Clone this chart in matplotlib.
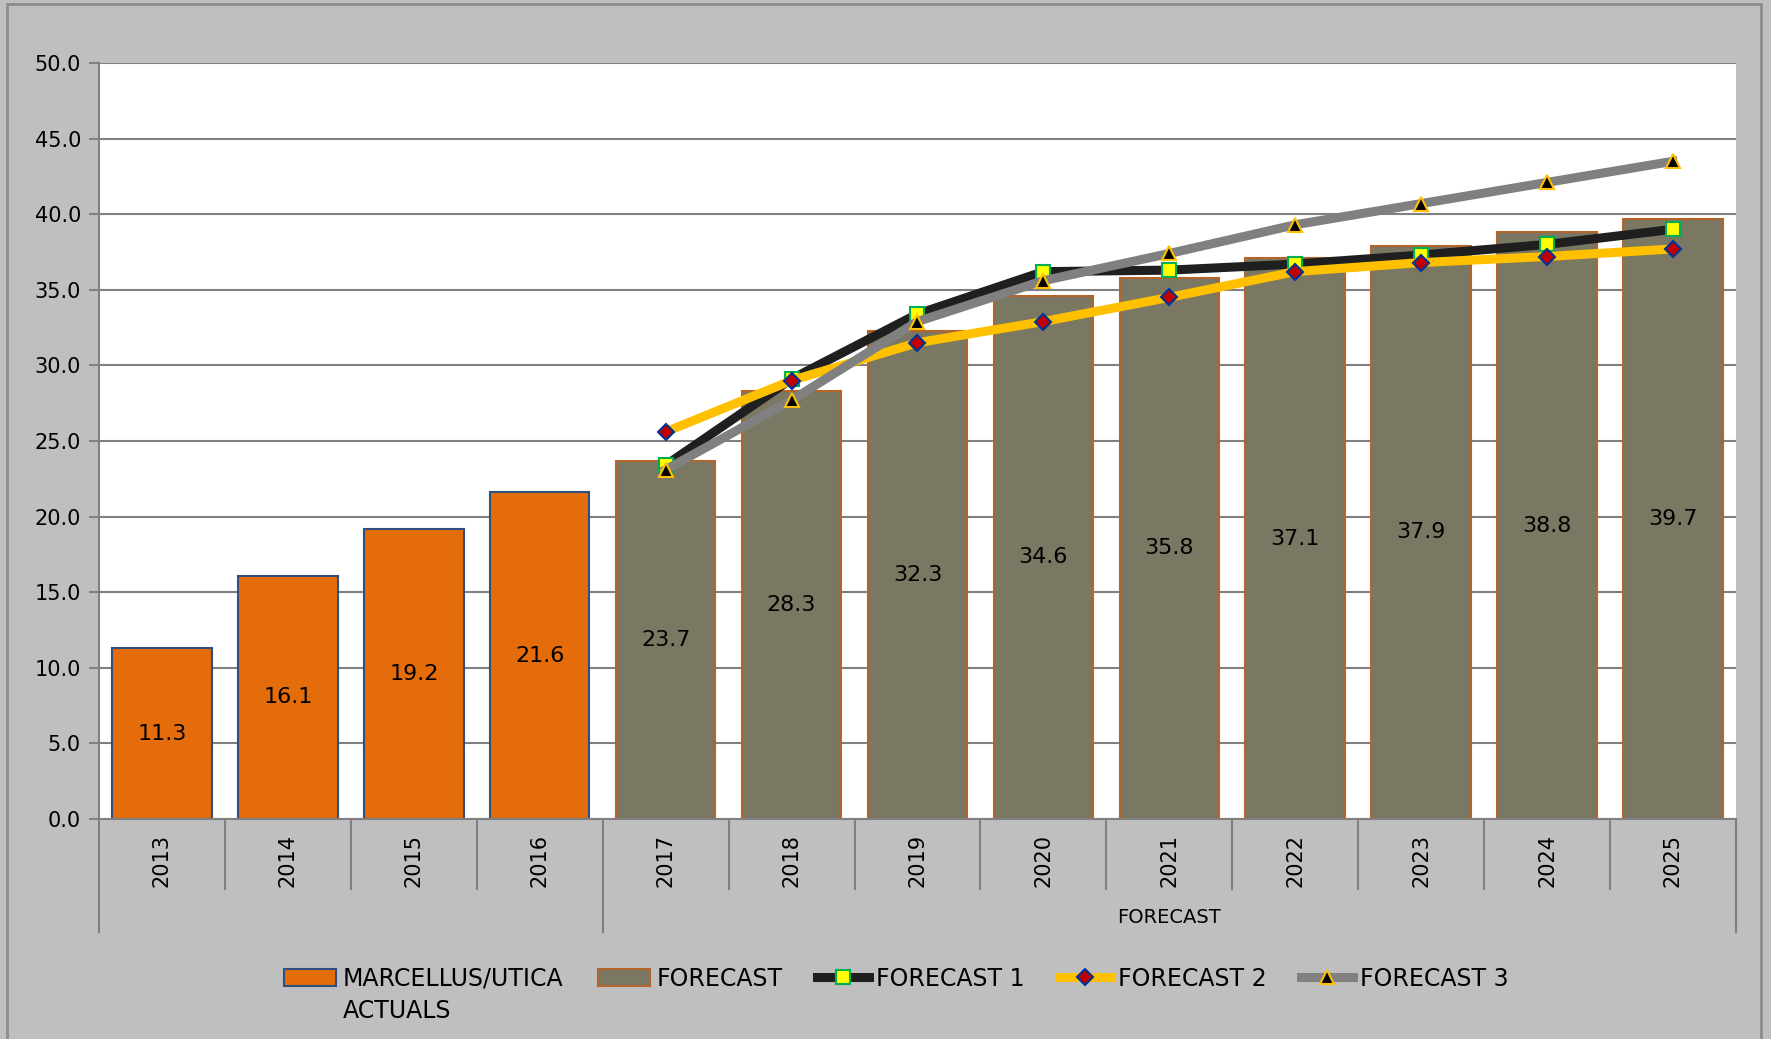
import matplotlib.pyplot as plt
from matplotlib.patches import Patch, Rectangle
from matplotlib.lines import Line2D
import matplotlib.transforms as mtransforms

# data
years = ["2013", "2014", "2015", "2016", "2017", "2018", "2019",
         "2020", "2021", "2022", "2023", "2024", "2025"]
actuals = [11.3, 16.1, 19.2, 21.6]
forecast = [23.7, 28.3, 32.3, 34.6, 35.8, 37.1, 37.9, 38.8, 39.7]
forecast_1 = [23.4, 29.1, 33.4, 36.2, 36.3, 36.7, 37.3, 38.0, 39.0]
forecast_2 = [25.6, 29.0, 31.5, 32.9, 34.5, 36.2, 36.8, 37.2, 37.7]
forecast_3 = [23.1, 27.7, 32.9, 35.6, 37.4, 39.3, 40.7, 42.1, 43.5]
group_labels = ["", "FORECAST"]

bg = "#BFBFBF"
grid_c = "#808080"
lw_line = 6.5

fig = plt.figure(figsize=(17.71, 10.39), dpi=100, facecolor=bg)
ax = fig.add_axes([0.0559, 0.2117, 0.9243, 0.7277])
ax.set_facecolor("white")

n_act = len(actuals)
x_act = list(range(n_act))
x_fc = list(range(n_act, n_act + len(forecast)))

bars_a = ax.bar(x_act, actuals, width=0.79, color="#E46C0A",
                edgecolor="#2F4F7F", linewidth=1.5, zorder=2)
bars_f = ax.bar(x_fc, forecast, width=0.79, color="#7A7763",
                edgecolor="#B5652A", linewidth=1.5, zorder=2)

for bars in (bars_a, bars_f):
    for b in bars:
        h = b.get_height()
        ax.text(b.get_x() + b.get_width() / 2, h / 2, f"{h:.1f}",
                ha="center", va="center", fontsize=16, color="black", zorder=5)

ax.plot(x_fc, forecast_1, color="#1F1F1F", lw=lw_line, marker="s", ms=9.5,
        mfc="#FFFF00", mec="#00B050", mew=1.5, zorder=3)
ax.plot(x_fc, forecast_2, color="#FFC000", lw=lw_line, marker="D", ms=8.5,
        mfc="#C00000", mec="#003399", mew=1.5, zorder=3)
ax.plot(x_fc, forecast_3, color="#808080", lw=lw_line, marker="^", ms=10.5,
        mfc="black", mec="#FFC000", mew=1.5, zorder=3)

ax.set_xlim(-0.5, len(years) - 0.5)
ax.set_ylim(0, 50)
ax.set_yticks([i * 5 for i in range(11)])
ax.set_yticklabels([f"{i * 5:.1f}" for i in range(11)], fontsize=15)
ax.yaxis.grid(True, color=grid_c, lw=1.5, zorder=1)
ax.set_axisbelow(True)
ax.tick_params(axis="y", length=7, width=1.5, color=grid_c, pad=6)
ax.set_xticks([])
for s in ("top", "right"):
    ax.spines[s].set_visible(False)
ax.spines["left"].set_color(grid_c)
ax.spines["left"].set_linewidth(1.5)
ax.spines["bottom"].set_color(grid_c)
ax.spines["bottom"].set_linewidth(1.5)

# two level category axis
trans = mtransforms.blended_transform_factory(ax.transData, ax.transAxes)
for i, y in enumerate(years):
    ax.text(i, -0.055, y, rotation=90, ha="center", va="center",
            fontsize=15, transform=trans)
for k in range(len(years) + 1):
    xb = k - 0.5
    low = -0.149 if k in (0, n_act, len(years)) else -0.093
    ax.plot([xb, xb], [0, low], color=grid_c, lw=1.5, transform=trans,
            clip_on=False)
ax.text((n_act - 1) / 2, -0.13, group_labels[0], ha="center", va="center",
        fontsize=14, transform=trans)
ax.text((n_act + len(years) - 1) / 2, -0.13, group_labels[1], ha="center",
        va="center", fontsize=14, transform=trans)

# legend (second line of the first label goes underneath, like excel does)
handles = [
    Patch(facecolor="#E46C0A", edgecolor="#2F4F7F", lw=1.5),
    Patch(facecolor="#7A7763", edgecolor="#B5652A", lw=1.5),
    Line2D([], [], color="#1F1F1F", lw=lw_line, marker="s", ms=9.5,
           mfc="#FFFF00", mec="#00B050", mew=1.5),
    Line2D([], [], color="#FFC000", lw=lw_line, marker="D", ms=8.5,
           mfc="#C00000", mec="#003399", mew=1.5),
    Line2D([], [], color="#808080", lw=lw_line, marker="^", ms=10.5,
           mfc="black", mec="#FFC000", mew=1.5),
]
labels = ["MARCELLUS/UTICA", "FORECAST", "FORECAST 1",
          "FORECAST 2", "FORECAST 3"]
leg = fig.legend(handles, labels, loc="center", bbox_to_anchor=(0.506, 0.058),
                 ncol=5, frameon=False, fontsize=17, handlelength=2.2,
                 handletextpad=0.3, columnspacing=1.45)
fig.canvas.draw()
bb = leg.get_texts()[0].get_window_extent().transformed(fig.transFigure.inverted())
fig.text(bb.x0, bb.y0 - 0.008, "ACTUALS", ha="left", va="top", fontsize=17)

# outer chart border
fig.patches.append(Rectangle((7 / 1771, -0.01), 1754 / 1771, 1.01 - 4 / 1039,
                             transform=fig.transFigure, fill=False,
                             edgecolor="#8C8C8C", lw=2))

fig.savefig("out.png", dpi=100, facecolor=bg)
